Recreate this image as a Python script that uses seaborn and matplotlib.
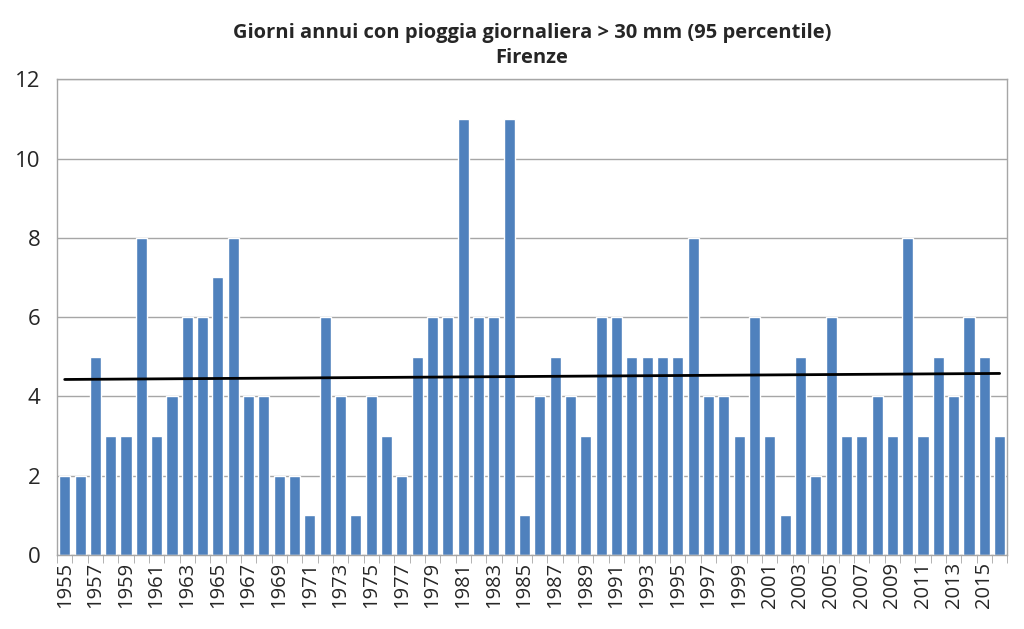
import numpy as np
import pandas as pd
import seaborn as sns
import matplotlib.pyplot as plt

years = list(range(1955, 2017))
days = [2, 2, 5, 3, 3, 8, 3, 4, 6, 6, 7, 8, 4, 4, 2, 2, 1, 6, 4, 1,
        4, 3, 2, 5, 6, 6, 11, 6, 6, 11, 1, 4, 5, 4, 3, 6, 6, 5, 5, 5,
        5, 8, 4, 4, 3, 6, 3, 1, 5, 2, 6, 3, 3, 4, 3, 8, 3, 5, 4, 6,
        5, 3]
title = 'Giorni annui con pioggia giornaliera > 30 mm (95 percentile)\nFirenze'

df = pd.DataFrame({'anno': years, 'giorni': days})

sns.set_style('white')
plt.rcParams['font.family'] = ['Open Sans', 'DejaVu Sans']

fig = plt.figure(figsize=(10.24, 6.29), dpi=100)
ax = fig.add_axes([0.0557, 0.118, 0.928, 0.756])

sns.barplot(data=df, x='anno', y='giorni', color='#4F81BD', saturation=1,
            width=0.72, ax=ax, zorder=2)

# linear trend (as Excel draws it)
x = np.arange(len(years))
k, q = np.polyfit(x, days, 1)
ax.plot(x, k * x + q, color='black', lw=2, zorder=3)

ax.set_xlim(-0.5, len(years) - 0.5)
ax.set_ylim(0, 12)
ax.set_yticks(range(0, 13, 2))
ax.grid(axis='y', color='#A6A6A6', lw=1, zorder=0)

ax.set_xticks(x[::2])
ax.set_xticklabels([str(y) for y in years[::2]], rotation=90, fontsize=14.5)
ax.set_xticks(np.arange(-0.5, len(years)), minor=True)
ax.tick_params(axis='x', which='major', length=0, pad=5)
ax.tick_params(axis='x', which='minor', length=6, color='#A6A6A6', direction='out')
ax.tick_params(axis='y', labelsize=16, length=0, pad=12)
ax.xaxis.set_ticks_position('bottom')

for side in ['left', 'right', 'top', 'bottom']:
    ax.spines[side].set_visible(True)
    ax.spines[side].set_color('#A6A6A6')
    ax.spines[side].set_linewidth(1)

ax.set_xlabel('')
ax.set_ylabel('')
ax.set_title(title, fontsize=14.5, fontweight='bold', pad=12, linespacing=1.3)

fig.savefig('out.png', dpi=100)
